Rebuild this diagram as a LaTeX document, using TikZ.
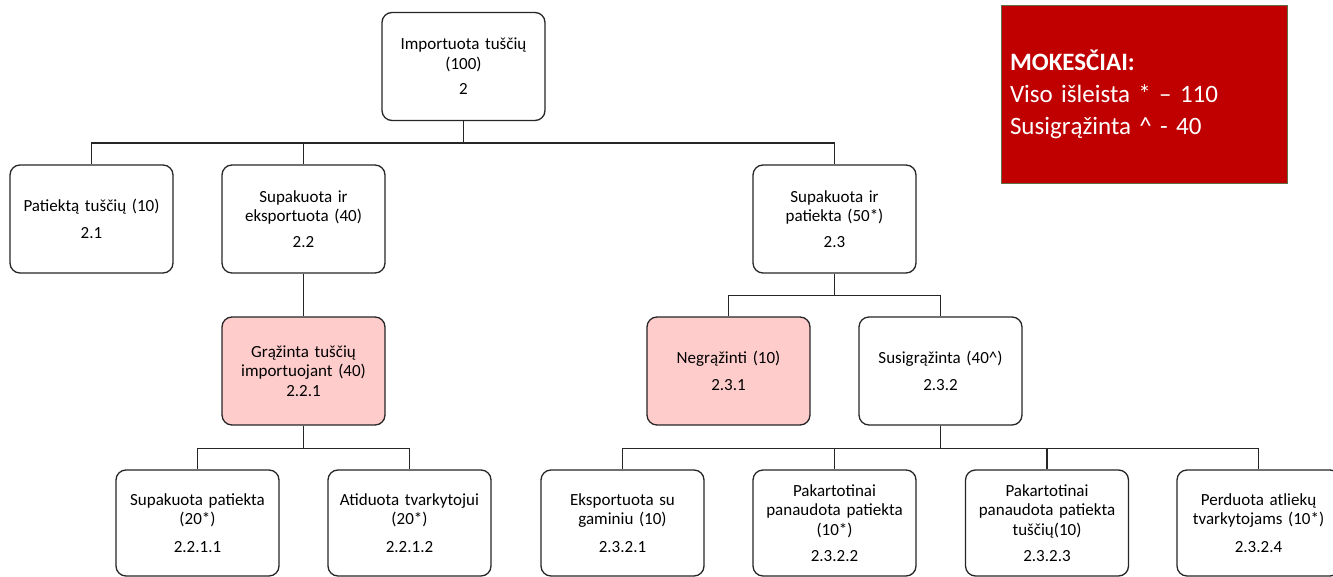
\documentclass[tikz,border=0pt]{standalone}
\usepackage{fontspec}
\setmainfont{Carlito}
\definecolor{pinkfill}{HTML}{FFCCCC}
\definecolor{taxred}{HTML}{C00000}
\definecolor{taxborder}{HTML}{5E6E45}
\begin{document}
\begin{tikzpicture}[x=1pt,y=-1pt,
  box/.style={draw=black!85, line width=1.3pt, rounded corners=10pt, fill=white,
    minimum width=163pt, minimum height=108pt, inner sep=0pt,
    text width=160pt, align=center, font=\fontsize{17}{19.5}\selectfont},
  lowbox/.style={box, minimum height=106pt},
  pinkbox/.style={box, fill=pinkfill},
  link/.style={draw=black!85, line width=1.3pt}]
\clip (0,0) rectangle (1333,577);
\fill[white] (0,0) rectangle (1333,577);
% level 0
\node[box] (n2) at (463.5,66.5) {Importuota tuščių\\(100)\\[6pt]2};
% level 1
\node[box] (n21) at (91.5,219) {Patiektą tuščių (10)\\[7pt]2.1};
\node[box] (n22) at (303.5,219) {Supakuota ir\\eksportuota (40)\\[6pt]2.2};
\node[box] (n23) at (834.5,219) {Supakuota ir\\patiekta (50*)\\[6pt]2.3};
% level 2
\node[pinkbox] (n221) at (303.5,371) {Grąžinta tuščių\\importuojant (40)\\2.2.1};
\node[pinkbox] (n231) at (728.5,371) {Negrąžinti (10)\\[7pt]2.3.1};
\node[box] (n232) at (940.5,371) {Susigrąžinta (40\textasciicircum)\\[7pt]2.3.2};
% level 3
\node[lowbox] (n2211) at (197.5,523) {Supakuota patiekta\\(20*)\\[8pt]2.2.1.1};
\node[lowbox] (n2212) at (409.5,523) {Atiduota tvarkytojui\\(20*)\\[8pt]2.2.1.2};
\node[lowbox] (n2321) at (622.5,523) {Eksportuota su\\gaminiu (10)\\[8pt]2.3.2.1};
\node[lowbox] (n2322) at (834.5,523) {Pakartotinai\\panaudota patiekta\\(10*)\\[7pt]2.3.2.2};
\node[lowbox] (n2323) at (1047,523) {Pakartotinai\\panaudota patiekta\\tuščių(10)\\[7pt]2.3.2.3};
\node[lowbox] (n2324) at (1258.5,523) {Perduota atliekų\\tvarkytojams (10*)\\[8pt]2.3.2.4};
% tax box
\node[draw=taxborder, line width=0.8pt, fill=taxred, minimum width=286pt, minimum height=178pt,
  inner sep=0pt, text width=268pt, align=left, text=white,
  font=\fontsize{25}{32}\selectfont] (tax) at (1144,94)
  {\textbf{MOKESČIAI:}\\Viso išleista * – 110\\Susigrąžinta \textasciicircum{} - 40};
% connectors
\draw[link] (n2.south) -- ++(0,22) -| (n21.north);
\draw[link] (n2.south) -- ++(0,22) -| (n22.north);
\draw[link] (n2.south) -- ++(0,22) -| (n23.north);
\draw[link] (n22.south) -- (n221.north);
\draw[link] (n221.south) -- ++(0,23) -| (n2211.north);
\draw[link] (n221.south) -- ++(0,23) -| (n2212.north);
\draw[link] (n23.south) -- ++(0,22) -| (n231.north);
\draw[link] (n23.south) -- ++(0,22) -| (n232.north);
\draw[link] (n232.south) -- ++(0,23) -| (n2321.north);
\draw[link] (n232.south) -- ++(0,23) -| (n2322.north);
\draw[link] (n232.south) -- ++(0,23) -| (n2323.north);
\draw[link] (n232.south) -- ++(0,23) -| (n2324.north);
\end{tikzpicture}
\end{document}
